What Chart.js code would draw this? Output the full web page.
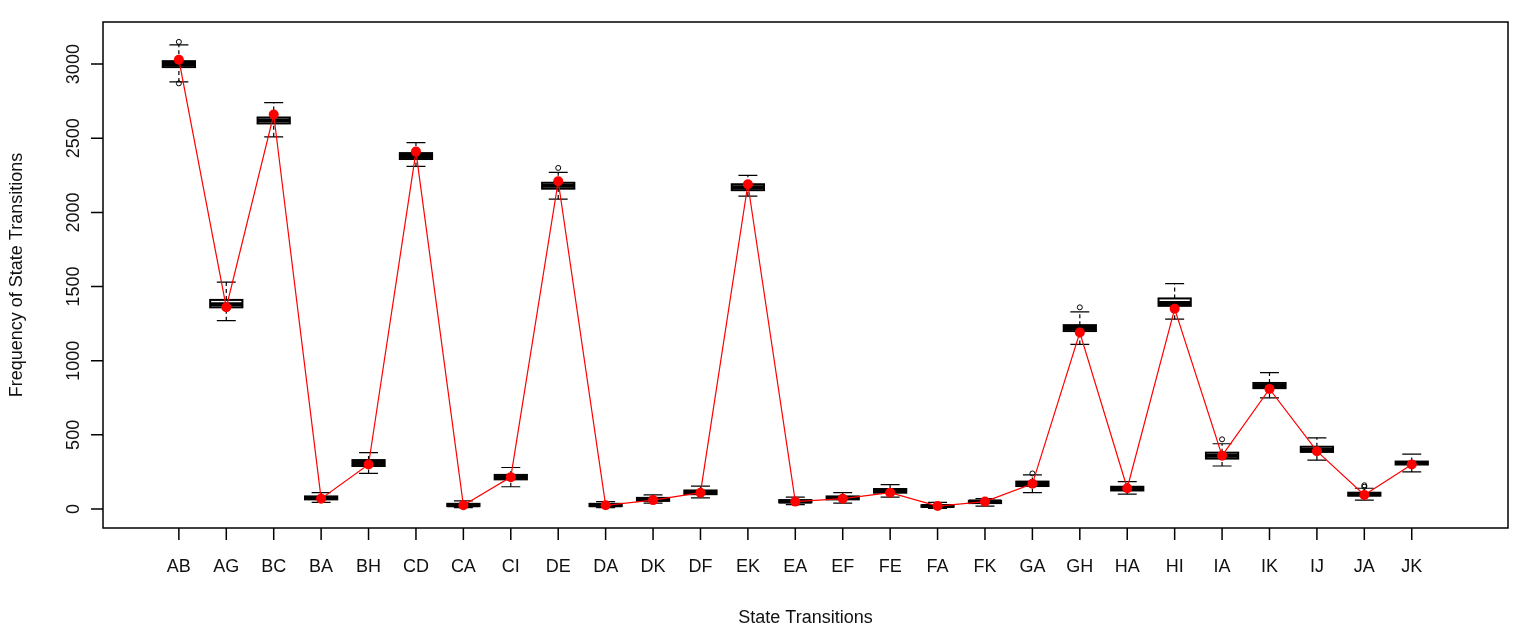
<!DOCTYPE html>
<html><head><meta charset="utf-8">
<script src="https://cdn.jsdelivr.net/npm/chart.js@4"></script>
<style>body{margin:0;background:#fff}</style>
</head><body>
<canvas id="myChart" width="1535" height="636"></canvas>
<script>
// state transition stats: [label, whiskerLow, q1, median, q3, whiskerHigh, mean, outliers]
const stats = [
  ["AB",2880,2980,3000,3020,3130,3030,[2870,3150]],
  ["AG",1270,1360,1380,1410,1530,1360,[]],
  ["BC",2510,2600,2620,2640,2740,2660,[]],
  ["BA",45,65,75,85,110,70,[]],
  ["BH",240,290,310,330,380,300,[]],
  ["CD",2310,2360,2380,2400,2470,2410,[]],
  ["CA",10,20,25,35,55,25,[]],
  ["CI",150,200,215,230,280,215,[]],
  ["DE",2090,2160,2180,2200,2270,2210,[2300]],
  ["DA",10,20,25,35,50,25,[]],
  ["DK",40,55,65,75,95,60,[]],
  ["DF",75,100,110,125,155,110,[]],
  ["EK",2110,2150,2170,2190,2250,2190,[]],
  ["EA",30,45,50,60,80,50,[]],
  ["EF",40,65,75,85,110,70,[]],
  ["FE",80,110,125,135,165,110,[]],
  ["FA",5,15,20,25,45,20,[]],
  ["FK",20,40,50,55,70,50,[]],
  ["GA",110,155,170,185,230,170,[240]],
  ["GH",1110,1200,1220,1240,1330,1190,[1360]],
  ["HA",100,125,140,150,185,140,[]],
  ["HI",1280,1370,1390,1420,1520,1350,[]],
  ["IA",290,340,360,380,440,360,[470]],
  ["IK",750,815,830,850,920,810,[]],
  ["IJ",330,385,400,420,480,390,[]],
  ["JA",60,90,100,110,140,95,[150,160]],
  ["JK",250,300,310,320,370,300,[]]
];
const labels = stats.map(s => s[0]);

const boxPlugin = {
  id: 'boxes',
  beforeDatasetsDraw(chart){
    const c = chart.ctx, x = chart.scales.x, y = chart.scales.y;
    c.save();
    c.strokeStyle = '#000';
    stats.forEach((s,i) => {
      const cx = x.getPixelForValue(i);
      const hw = x.getPixelForValue(i+0.34) - cx;
      const cw = x.getPixelForValue(i+0.2) - cx;
      c.lineWidth = 1.2;
      c.setLineDash([4,3]);
      c.beginPath();
      c.moveTo(cx, y.getPixelForValue(s[1])); c.lineTo(cx, y.getPixelForValue(s[2]));
      c.moveTo(cx, y.getPixelForValue(s[4])); c.lineTo(cx, y.getPixelForValue(s[5]));
      c.stroke();
      c.setLineDash([]);
      c.beginPath();
      c.moveTo(cx-cw, y.getPixelForValue(s[1])); c.lineTo(cx+cw, y.getPixelForValue(s[1]));
      c.moveTo(cx-cw, y.getPixelForValue(s[5])); c.lineTo(cx+cw, y.getPixelForValue(s[5]));
      c.stroke();
      const top = y.getPixelForValue(s[4]), bot = y.getPixelForValue(s[2]);
      c.fillStyle = '#fff';
      c.fillRect(cx-hw, top, 2*hw, bot-top);
      c.lineWidth = 2;
      c.strokeRect(cx-hw, top, 2*hw, bot-top);
      c.lineWidth = 4;
      c.beginPath();
      c.moveTo(cx-hw, y.getPixelForValue(s[3])); c.lineTo(cx+hw, y.getPixelForValue(s[3]));
      c.stroke();
      c.lineWidth = 1;
      s[7].forEach(o => {
        c.beginPath(); c.arc(cx, y.getPixelForValue(o), 2.5, 0, Math.PI*2); c.stroke();
      });
    });
    c.restore();
  },
  afterDraw(chart){
    const c = chart.ctx, x = chart.scales.x, y = chart.scales.y, a = chart.chartArea;
    c.save();
    c.strokeStyle = '#000'; c.fillStyle = '#111'; c.lineWidth = 1.5;
    c.strokeRect(a.left, a.top, a.right-a.left, a.bottom-a.top);
    // ticks hang off the frame, R style
    c.beginPath();
    for (let v = 0; v <= 3000; v += 500) {
      const py = y.getPixelForValue(v);
      c.moveTo(a.left, py); c.lineTo(a.left-12, py);
    }
    stats.forEach((s,i) => { const px = x.getPixelForValue(i); c.moveTo(px, a.bottom); c.lineTo(px, a.bottom+12); });
    c.stroke();
    c.font = '18px "Liberation Sans", Arial, sans-serif';
    c.textAlign = 'center'; c.textBaseline = 'bottom';
    for (let v = 0; v <= 3000; v += 500) {
      const py = y.getPixelForValue(v);
      c.save(); c.translate(a.left-28, py); c.rotate(-Math.PI/2); c.fillText(String(v), 0, 8); c.restore();
    }
    c.textBaseline = 'middle';
    labels.forEach((l,i) => c.fillText(l, x.getPixelForValue(i), 567));
    c.fillText('State Transitions', (a.left+a.right)/2, 618);
    c.save(); c.translate(17, (a.top+a.bottom)/2); c.rotate(-Math.PI/2);
    c.fillText('Frequency of State Transitions', 0, 0); c.restore();
    c.restore();
  }
};

const ctx = document.getElementById('myChart').getContext('2d');
const myChart = new Chart(ctx, {
  type: 'line',
  data: {
    datasets: [{
      label: 'mean',
      data: stats.map((s,i) => ({x: i, y: s[6]})),
      borderColor: 'red',
      backgroundColor: 'red',
      borderWidth: 1.2,
      pointRadius: 5,
      pointBorderWidth: 0,
      tension: 0
    }]
  },
  options: {
    responsive: false,
    animation: false,
    layout: { padding: { left: 103, top: 22, right: 27, bottom: 108 } },
    plugins: { legend: { display: false }, tooltip: { enabled: false } },
    scales: {
      x: { type: 'linear', display: false, min: -1.6, max: 28.03 },
      y: { display: false, min: -128, max: 3284 }
    }
  },
  plugins: [boxPlugin]
});
</script>
</body></html>
